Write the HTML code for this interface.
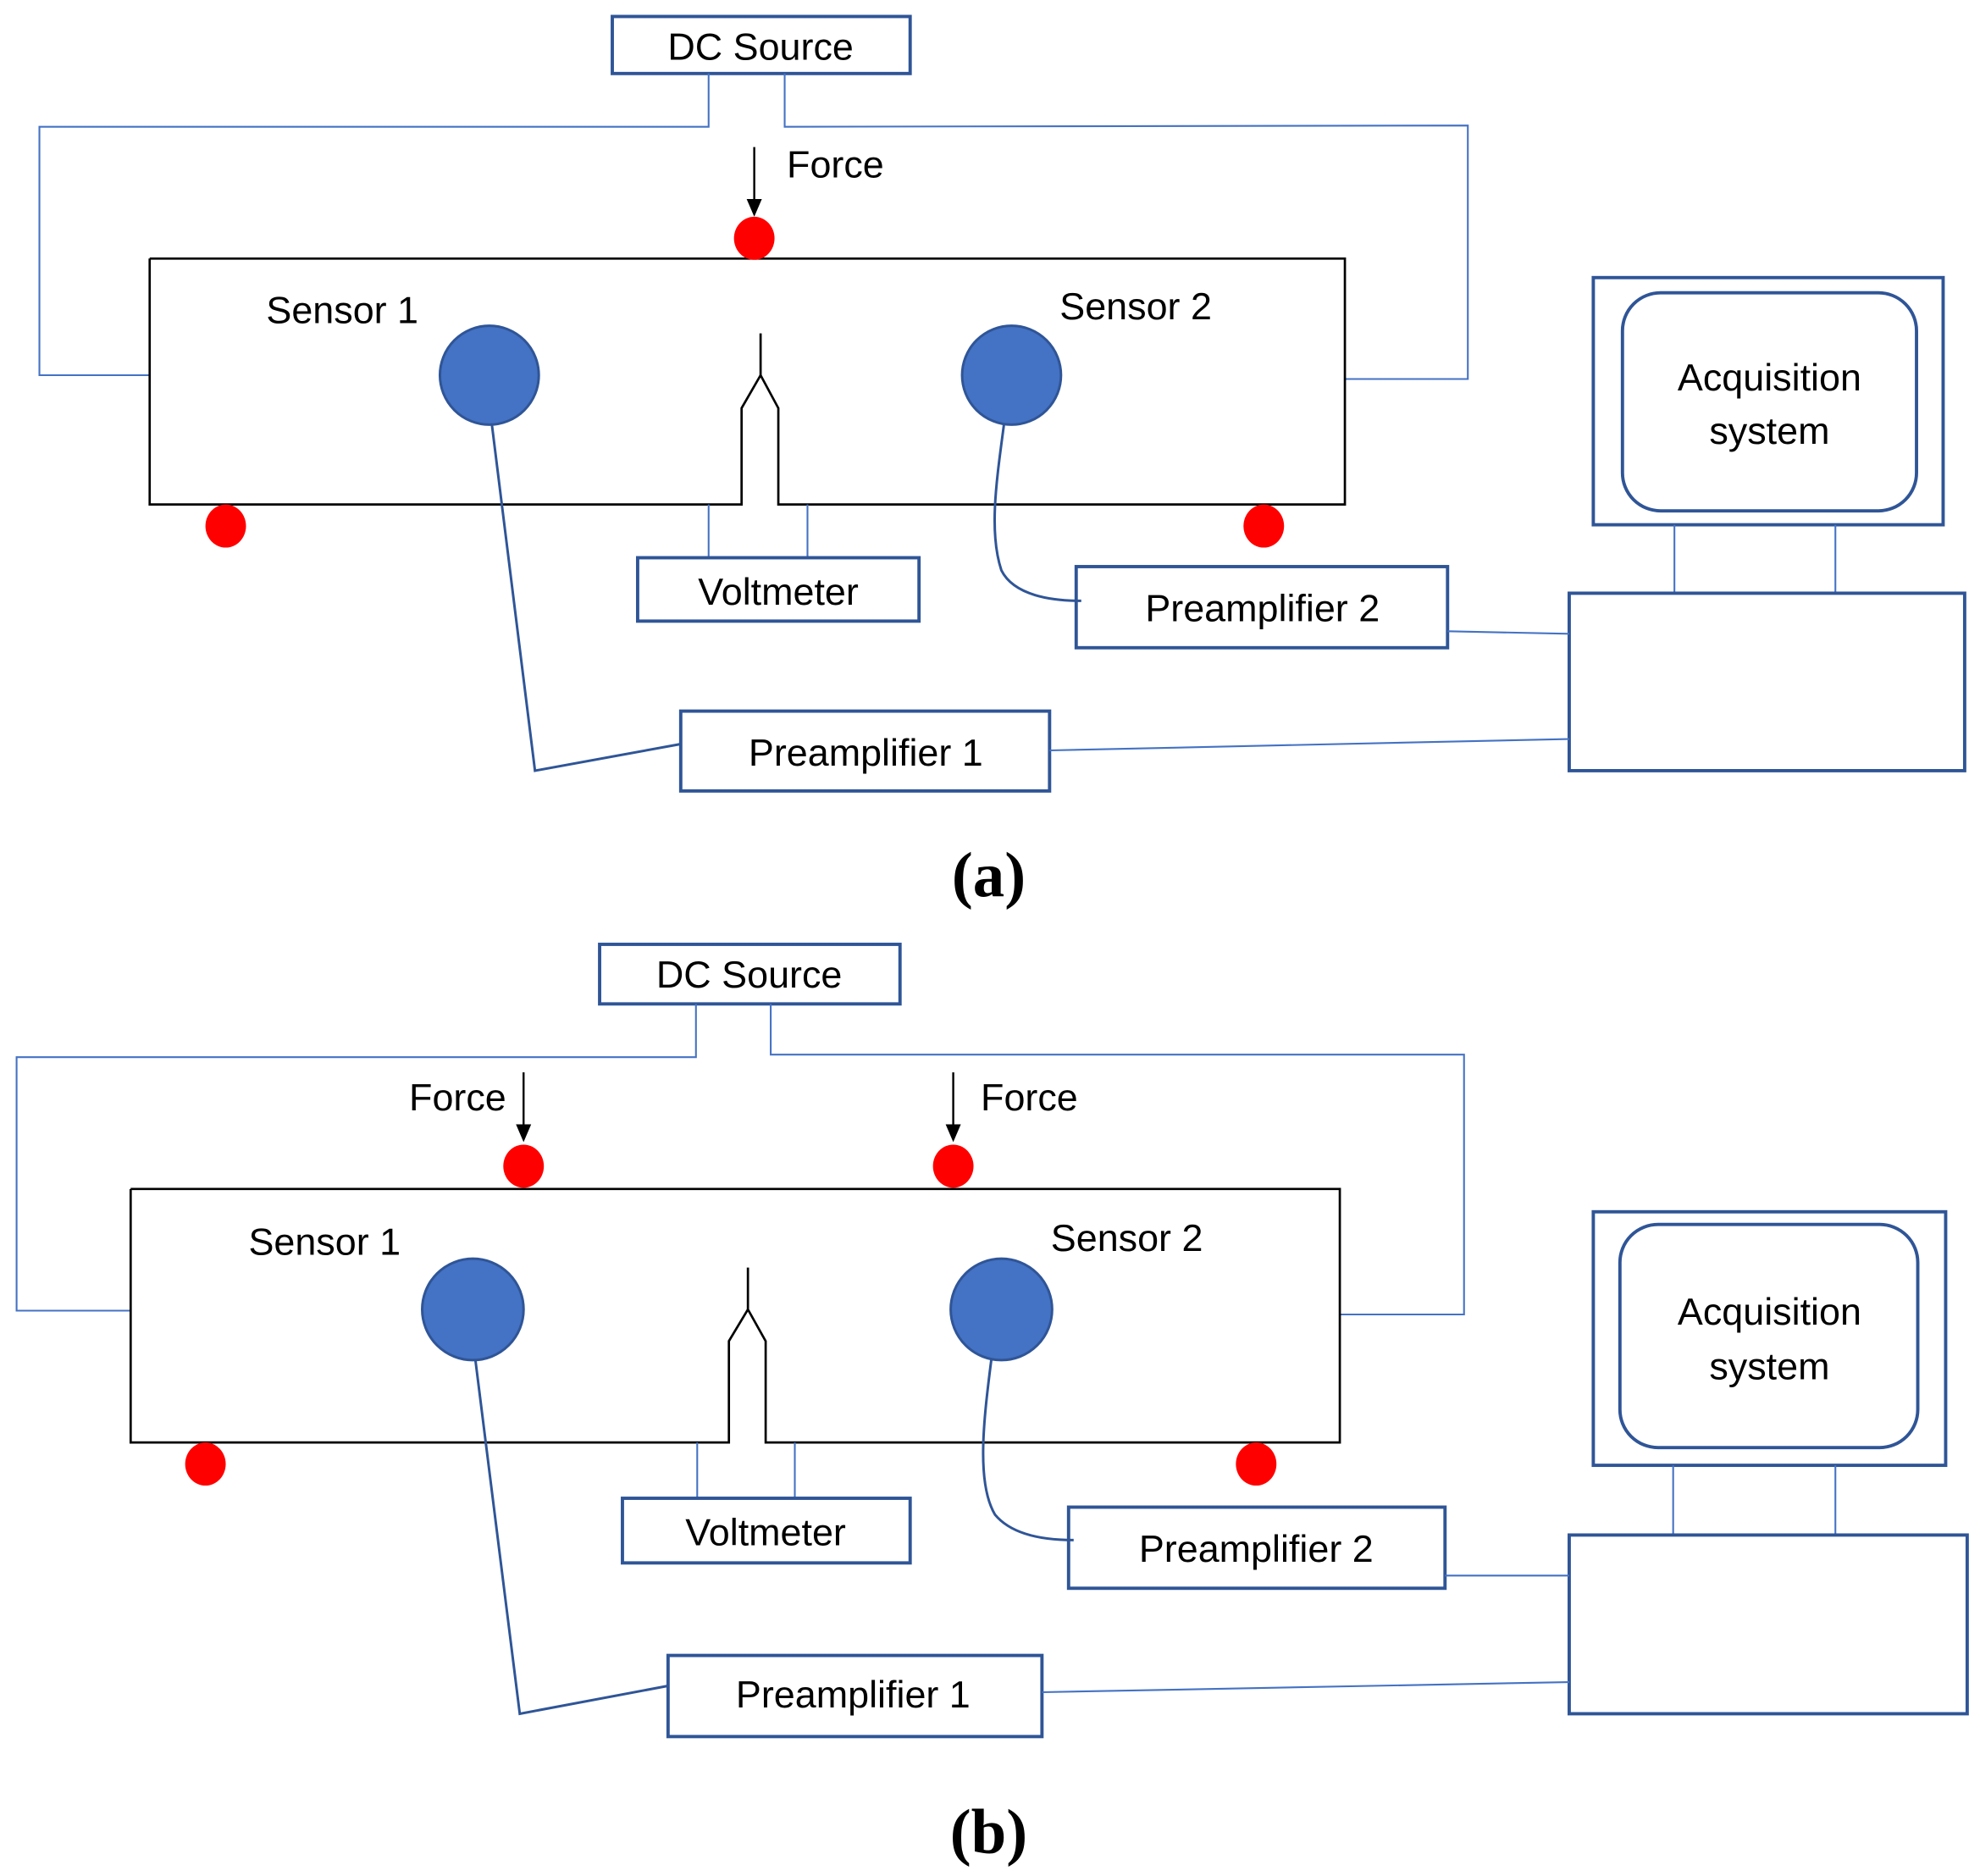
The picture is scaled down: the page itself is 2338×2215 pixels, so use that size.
<!DOCTYPE html>
<html><head><meta charset="utf-8"><style>
html,body{margin:0;padding:0;background:#fff;}
svg{display:block;}
text{font-family:"Liberation Sans",sans-serif;font-size:30px;fill:#000;text-anchor:middle;}
.b{fill:none;stroke:#2f5597;stroke-width:2.6;}
.w{fill:none;stroke:#4472c4;stroke-width:1.4;}
.k{fill:none;stroke:#000;stroke-width:1.8;}
.c{fill:#4472c4;stroke:#2f5597;stroke-width:2;}
.r{fill:#ff0000;}
.lbl{font-family:"Liberation Serif",serif;font-weight:bold;font-size:50px;}
</style></head><body>
<svg width="2338" height="2215" viewBox="0 0 1562 1480" xmlns="http://www.w3.org/2000/svg">
<defs><marker id="ar" markerWidth="8" markerHeight="8" refX="4" refY="6" orient="auto" markerUnits="userSpaceOnUse"><path d="M0,0 L8,0 L4,8 z" fill="#000"/></marker></defs>
<!-- (a) -->
<rect class="b" x="483" y="13" width="235" height="45"/>
<text x="600" y="47">DC Source</text>
<polyline class="w" points="559,58 559,100 31,100 31,296 118,296"/>
<polyline class="w" points="619,58 619,100 1158,99 1158,299 1061,299"/>
<line x1="595" y1="116" x2="595" y2="164" stroke="#000" stroke-width="1.6"/>
<path d="M589,157 L601,157 L595,171 z" fill="#000"/>
<text x="659" y="140">Force</text>
<polyline class="k" points="118,204 1061,204 1061,398 614,398 614,322 600,296 585,322 585,398 118,398 118,204"/>
<line class="k" x1="600" y1="263" x2="600" y2="296"/>
<ellipse class="r" cx="595" cy="188" rx="16" ry="17"/>
<ellipse class="r" cx="178" cy="415" rx="16" ry="17"/>
<ellipse class="r" cx="997" cy="415" rx="16" ry="17"/>
<text x="270" y="255">Sensor 1</text>
<text x="896" y="252">Sensor 2</text>
<circle class="c" cx="386" cy="296" r="39"/>
<circle class="c" cx="798" cy="296" r="39"/>
<line class="w" x1="559" y1="398" x2="559" y2="440"/>
<line class="w" x1="637" y1="398" x2="637" y2="440"/>
<rect class="b" x="503" y="440" width="222" height="50"/>
<text x="614" y="477">Voltmeter</text>
<rect class="b" x="849" y="447" width="293" height="64"/>
<text x="996" y="490">Preamplifier 2</text>
<path d="M792,335 C786,380 780,420 790,450 C800,470 830,474 853,474" fill="none" stroke="#2f5597" stroke-width="2"/>
<rect class="b" x="537" y="561" width="291" height="63"/>
<text x="683" y="604">Preamplifier 1</text>
<polyline points="388,335 422,608 537,587" fill="none" stroke="#2f5597" stroke-width="2"/>
<rect class="b" x="1257" y="219" width="276" height="195"/>
<rect class="b" x="1280" y="231" width="232" height="172" rx="30"/>
<text x="1396" y="308">Acquisition</text>
<text x="1396" y="350">system</text>
<line class="w" x1="1321" y1="414" x2="1321" y2="468"/>
<line class="w" x1="1448" y1="414" x2="1448" y2="468"/>
<rect class="b" x="1238" y="468" width="312" height="140"/>
<line class="w" x1="1142" y1="498" x2="1238" y2="500"/>
<line class="w" x1="828" y1="592" x2="1238" y2="583"/>
<text class="lbl" x="780" y="707">(a)</text>
<!-- (b) -->
<rect class="b" x="473" y="745" width="237" height="47"/>
<text x="591" y="779">DC Source</text>
<polyline class="w" points="549,792 549,834 13,834 13,1034 103,1034"/>
<polyline class="w" points="608,792 608,832 1155,832 1155,1037 1057,1037"/>
<line x1="413" y1="846" x2="413" y2="894" stroke="#000" stroke-width="1.6"/>
<path d="M407,887 L419,887 L413,901 z" fill="#000"/>
<line x1="752" y1="846" x2="752" y2="894" stroke="#000" stroke-width="1.6"/>
<path d="M746,887 L758,887 L752,901 z" fill="#000"/>
<text x="361" y="876">Force</text>
<text x="812" y="876">Force</text>
<polyline class="k" points="103,938 1057,938 1057,1138 604,1138 604,1058 590,1033 575,1058 575,1138 103,1138 103,938"/>
<line class="k" x1="590" y1="1000" x2="590" y2="1033"/>
<ellipse class="r" cx="413" cy="920" rx="16" ry="17"/>
<ellipse class="r" cx="752" cy="920" rx="16" ry="17"/>
<ellipse class="r" cx="162" cy="1155" rx="16" ry="17"/>
<ellipse class="r" cx="991" cy="1155" rx="16" ry="17"/>
<text x="256" y="990">Sensor 1</text>
<text x="889" y="987">Sensor 2</text>
<circle class="c" cx="373" cy="1033" r="40"/>
<circle class="c" cx="790" cy="1033" r="40"/>
<line class="w" x1="550" y1="1138" x2="550" y2="1182"/>
<line class="w" x1="627" y1="1138" x2="627" y2="1182"/>
<rect class="b" x="491" y="1182" width="227" height="51"/>
<text x="604" y="1219">Voltmeter</text>
<rect class="b" x="843" y="1189" width="297" height="64"/>
<text x="991" y="1232">Preamplifier 2</text>
<path d="M782,1073 C776,1120 770,1170 785,1195 C800,1213 830,1215 847,1215" fill="none" stroke="#2f5597" stroke-width="2"/>
<rect class="b" x="527" y="1306" width="295" height="64"/>
<text x="673" y="1347">Preamplifier 1</text>
<polyline points="375,1073 410,1352 527,1330" fill="none" stroke="#2f5597" stroke-width="2"/>
<rect class="b" x="1257" y="956" width="278" height="200"/>
<rect class="b" x="1278" y="966" width="235" height="176" rx="30"/>
<text x="1396" y="1045">Acquisition</text>
<text x="1396" y="1088">system</text>
<line class="w" x1="1320" y1="1156" x2="1320" y2="1211"/>
<line class="w" x1="1448" y1="1156" x2="1448" y2="1211"/>
<rect class="b" x="1238" y="1211" width="314" height="141"/>
<line class="w" x1="1140" y1="1243" x2="1238" y2="1243"/>
<line class="w" x1="822" y1="1335" x2="1238" y2="1327"/>
<text class="lbl" x="780" y="1462">(b)</text>
</svg>
</body></html>
